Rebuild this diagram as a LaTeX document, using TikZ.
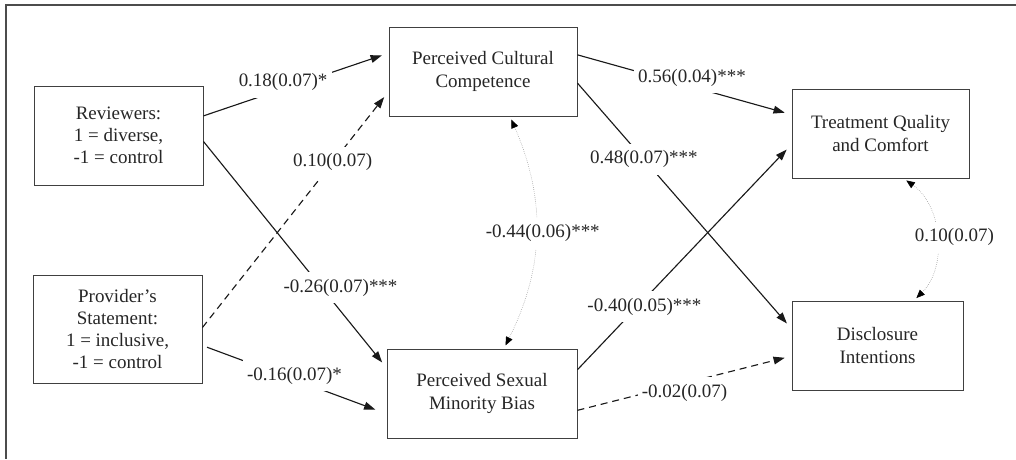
\documentclass[tikz,border=0pt]{standalone}
\usepackage{fontspec}
\setmainfont{Liberation Serif}
\usetikzlibrary{arrows.meta}

\begin{document}
\begin{tikzpicture}[x=0.025cm, y=-0.025cm,
  box/.style={draw=black!75, line width=0.6pt, align=center, inner sep=2pt,
    font=\fontsize{13.5}{15.8}\selectfont, text=black!85},
  effect/.style={draw=black!90, line width=0.8pt, shorten >=5pt,
    -{Triangle[length=8pt,width=5.5pt]}},
  cov/.style={draw=black!45, densely dotted, line width=0.4pt,
    shorten >=2.5pt, shorten <=2.5pt,
    {Triangle[length=6pt,width=5pt,color=black]}-{Triangle[length=6pt,width=5pt,color=black]}},
  coef/.style={fill=white, inner xsep=3pt, inner ysep=5pt,
    font=\fontsize{13.5}{15.8}\selectfont, text=black!85}]

  \useasboundingbox (0,0) rectangle (1016,459);

  % Frame (top and left edges only)
  \draw[line width=1.4pt, black!70] (1016,5) -- (6,5) -- (6,459);

  % Predictors
  \node[box, minimum width=4.225cm, minimum height=2.475cm] (rev) at (118.5,135.5)
    {Reviewers:\\1 = diverse,\\-1 = control};
  \node[box, minimum width=4.225cm, minimum height=2.7cm] (prov) at (117.5,329)
    {Provider's\\Statement:\\1 = inclusive,\\-1 = control};

  % Mediators
  \node[box, minimum width=4.7cm, minimum height=2.225cm] (pcc) at (483,71.5)
    {Perceived Cultural\\Competence};
  \node[box, minimum width=4.75cm, minimum height=2.225cm] (psmb) at (482,393.5)
    {Perceived Sexual\\Minority Bias};

  % Outcomes
  \node[box, minimum width=4.425cm, minimum height=2.225cm] (tqc) at (880.5,133.5)
    {Treatment Quality\\and Comfort};
  \node[box, minimum width=4.275cm, minimum height=2.225cm] (di) at (877.5,345.5)
    {Disclosure\\Intentions};

  % Paths from predictors
  \draw[effect] (rev.13) -- node[coef, pos=0.43, yshift=4.7pt] {0.18(0.07)*} (pcc.169);
  \draw[effect, dashed, dash pattern=on 5pt off 3.5pt] (prov.1)
    -- node[coef, pos=0.70] {0.10(0.07)} (pcc.192);
  \draw[effect] (rev.-4) -- node[coef, pos=0.645, xshift=13.5pt] {-0.26(0.07)***} (psmb.165);
  \draw[effect, shorten <=3.5pt, shorten >=8.5pt] (prov.-11.5)
    -- node[coef, pos=0.5, yshift=3pt] {-0.16(0.07)*} (psmb.192);

  % Paths from mediators
  \draw[effect] (pcc.10.5) -- node[coef, pos=0.535, yshift=6.5pt] {0.56(0.04)***} (tqc.168);
  \draw[effect] (pcc.-7.6) -- node[coef, pos=0.31] {0.48(0.07)***} (di.169);
  \draw[effect] (psmb.14) -- node[coef, pos=0.28, xshift=5pt] {-0.40(0.05)***} (tqc.187);
  \draw[effect, dashed, dash pattern=on 5pt off 3.5pt] (psmb.-10)
    -- node[coef, pos=0.5, yshift=-7pt] {-0.02(0.07)} (di.187);

  % Covariances
  \draw[cov] (pcc.-59) to[bend left=25] node[coef, midway, xshift=5pt] {-0.44(0.06)***} (psmb.64);
  \draw[cov] (tqc.-63) to[bend left=50] node[coef, midway, xshift=13pt] {0.10(0.07)} (di.51);
\end{tikzpicture}
\end{document}
